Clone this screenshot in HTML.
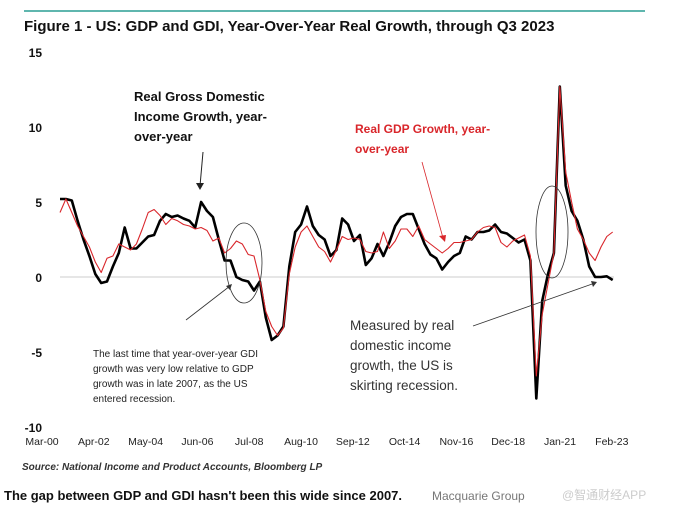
<!DOCTYPE html>
<html><head><meta charset="utf-8"><style>
body{margin:0;background:#fff;width:678px;height:512px;overflow:hidden;font-family:"Liberation Sans","Noto Sans CJK SC",sans-serif}
svg{position:absolute;left:0;top:0}
</style></head><body>
<svg width="678" height="512">
<line x1="24" y1="11" x2="645" y2="11" stroke="#5fb6ae" stroke-width="2"/>
<text x="24" y="31" font-size="15" font-weight="bold" fill="#111">Figure 1 - US: GDP and GDI, Year-Over-Year Real Growth, through Q3 2023</text>
<g id="yaxis"></g>
<g id="xaxis"></g>
<g id="series"></g>
<g font-family="Liberation Sans, sans-serif">
<text x="134" y="101" font-size="13" font-weight="bold" fill="#111"><tspan x="134">Real Gross Domestic</tspan><tspan x="134" dy="20">Income Growth, year-</tspan><tspan x="134" dy="20">over-year</tspan></text>
<line x1="203" y1="152" x2="200" y2="186" stroke="#222" stroke-width="1"/>
<polygon points="196,183 204,183 200,190" fill="#222"/>
<text x="355" y="133" font-size="12" font-weight="bold" fill="#d9262b"><tspan x="355">Real GDP Growth, year-</tspan><tspan x="355" dy="20">over-year</tspan></text>
<line x1="422" y1="162" x2="443" y2="238" stroke="#d9262b" stroke-width="0.8"/>
<polygon points="439,236 446,235 445,242" fill="#d9262b"/>
<ellipse cx="244" cy="263" rx="18" ry="40" fill="none" stroke="#333" stroke-width="0.8"/>
<ellipse cx="552" cy="232" rx="16" ry="46" fill="none" stroke="#333" stroke-width="0.8"/>
<line x1="186" y1="320" x2="230" y2="286" stroke="#333" stroke-width="0.8"/>
<polygon points="226,286 232,284 230,290" fill="#333"/>
<text font-size="10" fill="#222"><tspan x="93" y="357">The last time that year-over-year GDI</tspan><tspan x="93" dy="15">growth was very low relative to GDP</tspan><tspan x="93" dy="15">growth was in late 2007, as the US</tspan><tspan x="93" dy="15">entered recession.</tspan></text>
<line x1="473" y1="326" x2="595" y2="283" stroke="#333" stroke-width="0.8"/>
<polygon points="591,281 597,282 593,287" fill="#333"/>
<text font-size="13.5" fill="#333"><tspan x="350" y="330">Measured by real</tspan><tspan x="350" dy="20">domestic income</tspan><tspan x="350" dy="20">growth, the US is</tspan><tspan x="350" dy="20">skirting recession.</tspan></text>
</g>
<text x="22" y="470" font-size="10" font-style="italic" font-weight="bold" fill="#333">Source: National Income and Product Accounts, Bloomberg LP</text>
<text x="4" y="500" font-size="13" font-weight="bold" fill="#111">The gap between GDP and GDI hasn't been this wide since 2007.</text>
<text x="432" y="500" font-size="12" fill="#777">Macquarie Group</text>
<text x="562" y="499" font-size="12" fill="#ccc">@智通财经APP</text>
</svg>
<script>
const yTicks=[15,10,5,0,-5,-10];
const xLabels=["Mar-00","Apr-02","May-04","Jun-06","Jul-08","Aug-10","Sep-12","Oct-14","Nov-16","Dec-18","Jan-21","Feb-23"];
const gdi=[5.2,5.2,5.1,3.75,2.5,1.4,0.2,-0.4,-0.3,0.7,1.6,3.3,1.9,1.9,2.3,2.7,2.8,3.75,4.2,4.0,4.1,3.9,3.75,3.3,5.0,4.4,4.0,2.5,1.1,1.1,0,-0.2,-0.3,-0.9,-0.3,-2.7,-4.2,-3.9,-3.3,0.7,3.0,3.5,4.7,3.4,2.8,2.5,1.4,1.8,3.9,3.5,2.4,2.8,0.8,1.25,2.2,1.4,2.3,3.4,4.0,4.2,4.2,3.2,2.2,1.5,1.25,0.5,1.0,1.4,1.6,2.7,2.5,3.0,3.0,3.1,3.5,3.0,2.9,2.6,2.3,2.5,1.1,-8.1,-1.6,0.2,1.6,12.7,6.1,4.4,3.75,2.5,0.7,0,0,0.05,-0.2];
const gdp=[4.3,5.2,4.3,3.4,2.7,2.0,1.0,0.3,1.25,1.4,2.2,2.0,1.8,2.2,3.2,4.3,4.5,4.1,3.5,3.9,3.75,3.5,3.4,3.2,3.3,3.1,2.4,2.6,1.6,1.9,2.4,2.2,1.5,1.4,-0.2,-2.3,-3.3,-3.9,-3.4,0.2,2.0,3.0,3.4,2.7,2.0,1.7,1.0,1.8,2.7,2.5,2.6,2.5,1.7,1.6,1.7,3.0,1.9,2.4,3.2,3.2,2.7,3.4,2.5,2.2,1.9,1.6,1.9,2.3,2.3,2.4,2.5,3.0,3.3,3.4,3.3,2.3,2.0,2.4,2.6,2.8,1.4,-6.6,-2.5,-0.45,1.6,12.7,7.0,5.0,3.2,2.5,1.6,1.1,2.0,2.7,3.0];
const NS='http://www.w3.org/2000/svg';
const y=v=>277-v*15;
const xs=i=>60+i*5.88;
const xl=i=>42+i*51.8;
function mk(tag,attrs,parent){const e=document.createElementNS(NS,tag);for(const k in attrs)e.setAttribute(k,attrs[k]);parent.appendChild(e);return e;}
const ya=document.getElementById('yaxis');
yTicks.forEach(t=>{const e=mk('text',{x:42,y:y(t)+5,'font-size':12,'font-weight':'bold','text-anchor':'end',fill:'#111'},ya);


e.textContent=t;});
const z=mk('line',{x1:60,x2:614,y1:y(0),y2:y(0),stroke:'#ccc','stroke-width':1},ya);


const xa=document.getElementById('xaxis');
xLabels.forEach((l,i)=>{const e=mk('text',{x:xl(i),y:445,'font-size':10.5,'text-anchor':'middle',fill:'#222'},xa);


e.textContent=l;});
const sg=document.getElementById('series');
function line(d,col,w,name){const p=mk('polyline',{points:d.map((v,i)=>xs(i).toFixed(1)+','+y(v).toFixed(1)).join(' '),fill:'none',stroke:col,'stroke-width':w,'stroke-linejoin':'round'},sg);

}
line(gdi,'#000',2.6,'gdi-line');
line(gdp,'#d9262b',1.1,'gdp-line');
</script>
</body></html>
